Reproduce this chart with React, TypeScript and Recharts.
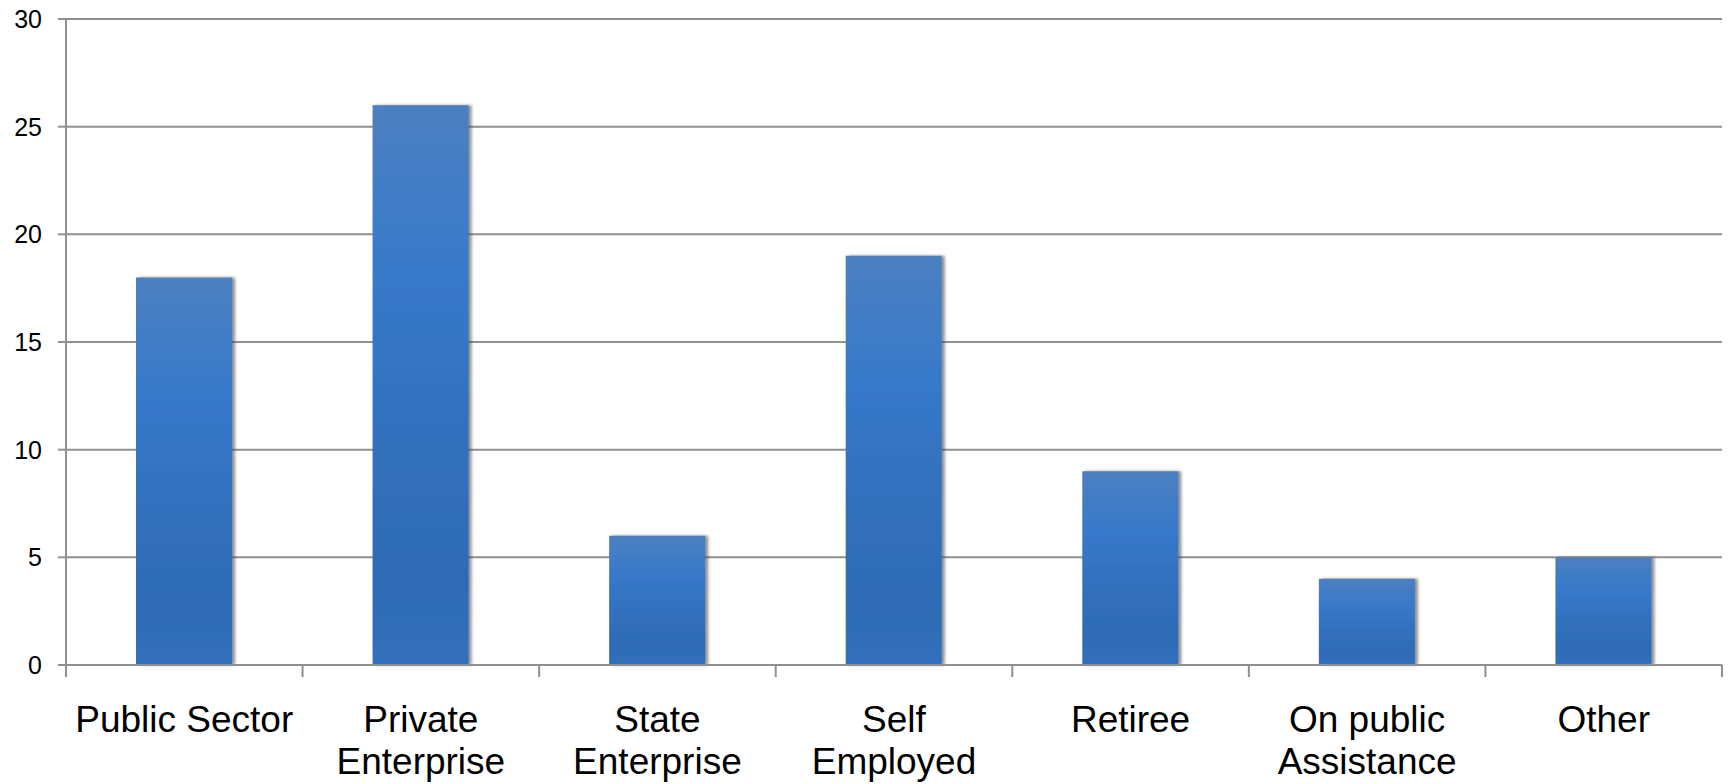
import React from "react";
import { BarChart, Bar, XAxis, YAxis, CartesianGrid } from "recharts";

const categories = [
  "Public Sector",
  "Private\nEnterprise",
  "State\nEnterprise",
  "Self\nEmployed",
  "Retiree",
  "On public\nAssistance",
  "Other",
];
const values = [18, 26, 6, 19, 9, 4, 5];
const yTicks = [0, 5, 10, 15, 20, 25, 30];

const data = categories.map((c, i) => ({ name: c, value: values[i] }));

const W = 1731;
const H = 784;
const MARGIN = { top: 19, right: 9, left: 0, bottom: 0 };
const Y_WIDTH = 66;
const X_HEIGHT = 119;
const PLOT_W = W - MARGIN.left - MARGIN.right - Y_WIDTH;
const BAND = PLOT_W / categories.length;
const FONT = "'Liberation Sans', Arial, Helvetica, sans-serif";
const GRID = "#8f8f8f";

const XTick = (props: any) => {
  const { x, y, payload, index } = props;
  const lines = String(payload.value).split("\n");
  const left = x - BAND / 2;
  const right = x + BAND / 2;
  return (
    <g>
      <line x1={left} y1={y} x2={left} y2={y + 12} stroke={GRID} strokeWidth={2} />
      {index === categories.length - 1 && (
        <line x1={right} y1={y} x2={right} y2={y + 12} stroke={GRID} strokeWidth={2} />
      )}
      {lines.map((l: string, i: number) => (
        <text
          key={i}
          x={x}
          y={y + 67 + i * 42}
          textAnchor="middle"
          fontSize={37}
          fontFamily={FONT}
          fill="#000"
        >
          {l}
        </text>
      ))}
    </g>
  );
};

export default function App() {
  return (
    <div style={{ position: "absolute", left: 0, top: 0, width: W, height: H, background: "#fff" }}>
      <BarChart width={W} height={H} data={data} margin={MARGIN}>
        <defs>
          <linearGradient id="barGrad" x1="0" y1="0" x2="0" y2="1">
            <stop offset="0%" stopColor="#4b80c1" />
            <stop offset="30%" stopColor="#3879ca" />
            <stop offset="60%" stopColor="#3170bd" />
            <stop offset="85%" stopColor="#2e6bb5" />
            <stop offset="100%" stopColor="#316fbb" />
          </linearGradient>
          <filter id="barShadow" x="-10%" y="-10%" width="130%" height="120%">
            <feDropShadow dx="3" dy="0" stdDeviation="1.5" floodColor="#444" floodOpacity="0.6" />
          </filter>
        </defs>
        <CartesianGrid vertical={false} stroke={GRID} strokeWidth={2} />
        <XAxis
          dataKey="name"
          interval={0}
          height={X_HEIGHT}
          axisLine={{ stroke: GRID, strokeWidth: 2 }}
          tickLine={false}
          tickSize={0}
          tickMargin={0}
          tick={<XTick />}
        />
        <YAxis
          width={Y_WIDTH}
          domain={[0, 30]}
          ticks={yTicks}
          interval={0}
          axisLine={{ stroke: GRID, strokeWidth: 2 }}
          tickLine={{ stroke: GRID, strokeWidth: 2 }}
          tickSize={8}
          tickMargin={16}
          tick={{ fontSize: 25, fontFamily: FONT, fill: "#000" }}
        />
        <Bar
          dataKey="value"
          barSize={96}
          fill="url(#barGrad)"
          filter="url(#barShadow)"
          isAnimationActive={false}
        />
      </BarChart>
    </div>
  );
}
